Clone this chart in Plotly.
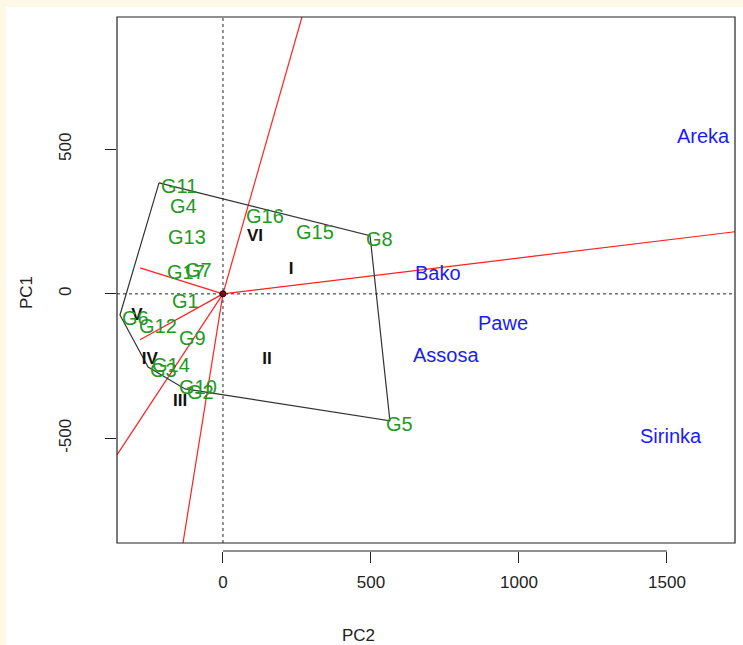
import plotly.graph_objects as go

# ---------------- data ----------------
genotypes = ["G11", "G4", "G13", "G16", "G15", "G8", "G17", "G7", "G1", "G6",
             "G12", "G9", "G14", "G3", "G10", "G2", "G5"]
gen_pc2 = [-216, -186, -193, 71, 240, 497, -196, -135, -179, -348,
           -290, -155, -247, -253, -155, -128, 564]
gen_pc1 = [384, 315, 208, 280, 225, 201, 87, 93, -14, -73,
           -100, -142, -235, -253, -311, -329, -439]

environments = ["Areka", "Bako", "Pawe", "Assosa", "Sirinka"]
env_pc2 = [1527, 642, 855, 635, 1402]
env_pc1 = [557, 83, -90, -201, -481]

hull = ["G11", "G8", "G5", "G2", "G3", "G6", "G11"]

ray_pc2 = [267, 1730, -358, -135, -280, -280]
ray_pc1 = [958, 215, -557, -862, -159, 90]

sectors = ["I", "II", "III", "IV", "V", "VI"]
sec_pc2 = [230, 149, -145, -247, -291, 108]
sec_pc1 = [83, -228, -374, -228, -76, 197]

x_ticks = [0, 500, 1000, 1500]
y_ticks = [-500, 0, 500]
x_range = [-358, 1730]
y_range = [-862, 958]

# label nudges (pixels) for a few crowded labels
label_nudge = {"G8": -6, "G5": -6}

# ---------------- figure ----------------
FONT = "Liberation Sans, Arial, sans-serif"
fig = go.Figure()

# rays from origin
for rx, ry in zip(ray_pc2, ray_pc1):
    fig.add_trace(go.Scatter(x=[0, rx], y=[0, ry], mode="lines",
                             line=dict(color="#ff2020", width=1.2),
                             hoverinfo="skip", showlegend=False, cliponaxis=True))

# polygon
idx = {g: i for i, g in enumerate(genotypes)}
fig.add_trace(go.Scatter(x=[gen_pc2[idx[g]] for g in hull],
                         y=[gen_pc1[idx[g]] for g in hull],
                         mode="lines", line=dict(color="#333333", width=1.2),
                         hoverinfo="skip", showlegend=False))

# origin point
fig.add_trace(go.Scatter(x=[0], y=[0], mode="markers",
                         marker=dict(size=6, color="#b00000",
                                     line=dict(color="black", width=1)),
                         showlegend=False, hoverinfo="skip"))

# invisible anchor points for the labels (hover only)
fig.add_trace(go.Scatter(x=gen_pc2, y=gen_pc1, mode="markers", text=genotypes,
                         marker=dict(size=6, opacity=0), showlegend=False))
fig.add_trace(go.Scatter(x=env_pc2, y=env_pc1, mode="markers", text=environments,
                         marker=dict(size=6, opacity=0), showlegend=False))

# sector labels
fig.add_trace(go.Scatter(x=sec_pc2, y=sec_pc1, mode="text",
                         text=["<b>%s</b>" % s for s in sectors],
                         textposition="middle center",
                         textfont=dict(family=FONT, size=17, color="#111111"),
                         showlegend=False))

annotations = []
for g, x, y in zip(genotypes, gen_pc2, gen_pc1):
    annotations.append(dict(x=x, y=y, xref="x", yref="y", text=g, showarrow=False,
                            xanchor="left", yanchor="middle",
                            xshift=label_nudge.get(g, 0), yshift=-3,
                            font=dict(family=FONT, size=20, color="#229922")))
for e, x, y in zip(environments, env_pc2, env_pc1):
    annotations.append(dict(x=x, y=y, xref="x", yref="y", text=e, showarrow=False,
                            xanchor="left", yanchor="middle", xshift=0, yshift=-3,
                            font=dict(family=FONT, size=20, color="#1a1aff")))
annotations += [
    dict(text="PC2", xref="paper", yref="paper", x=(358 - 117) / 618, y=(551 - 635) / 534,
         showarrow=False, font=dict(family=FONT, size=17, color="#222222"),
         xanchor="center", yanchor="middle"),
    dict(text="PC1", xref="paper", yref="paper", x=(27 - 117) / 618, y=(551 - 293) / 534,
         showarrow=False, textangle=-90, font=dict(family=FONT, size=17, color="#222222"),
         xanchor="center", yanchor="middle"),
]

shapes = [
    # page background pieces (cream border at top/left)
    dict(type="rect", xref="paper", yref="paper", x0=-0.1796, x1=1.1,
         y0=-0.3, y1=1.0187, fillcolor="white", line=dict(width=0), layer="below"),
    # dotted axes through origin
    dict(type="line", xref="x", yref="y domain", x0=0, x1=0, y0=0, y1=1,
         line=dict(color="#222222", width=1, dash="dot")),
    dict(type="line", xref="x domain", yref="y", x0=0, x1=1, y0=0, y1=0,
         line=dict(color="#222222", width=1, dash="dot")),
    # plot box
    dict(type="rect", xref="x domain", yref="y domain", x0=0, x1=1, y0=0, y1=1,
         line=dict(color="#222222", width=1.2)),
    # R-style x axis line between first and last tick
    dict(type="line", xref="x", yref="paper", x0=x_ticks[0], x1=x_ticks[-1],
         y0=0, y1=0, line=dict(color="#222222", width=1.2)),
]

fig.update_layout(
    width=743, height=645,
    margin=dict(l=117, r=8, t=17, b=94),
    paper_bgcolor="#fef9e6", plot_bgcolor="white",
    showlegend=False,
    shapes=shapes,
    annotations=annotations,
    xaxis=dict(range=x_range, tickvals=x_ticks, ticktext=[str(v) for v in x_ticks],
               showgrid=False, zeroline=False, showline=False,
               ticks="outside", ticklen=11, tickwidth=1.2, tickcolor="#222222",
               anchor="free", position=0, ticklabelstandoff=5,
               tickfont=dict(family=FONT, size=17, color="#222222")),
    yaxis=dict(range=y_range, tickvals=y_ticks, ticktext=[str(v) for v in y_ticks],
               domain=[0.015, 1],
               showgrid=False, zeroline=False, showline=False,
               ticks="outside", ticklen=11, tickwidth=1.2, tickcolor="#222222",
               tickangle=-90, ticklabelstandoff=27,
               tickfont=dict(family=FONT, size=17, color="#222222")),
)

fig.write_html(
    "out.html",
    config={"displayModeBar": False},
    post_script="document.body.style.margin='0';document.body.style.overflow='hidden';",
)
